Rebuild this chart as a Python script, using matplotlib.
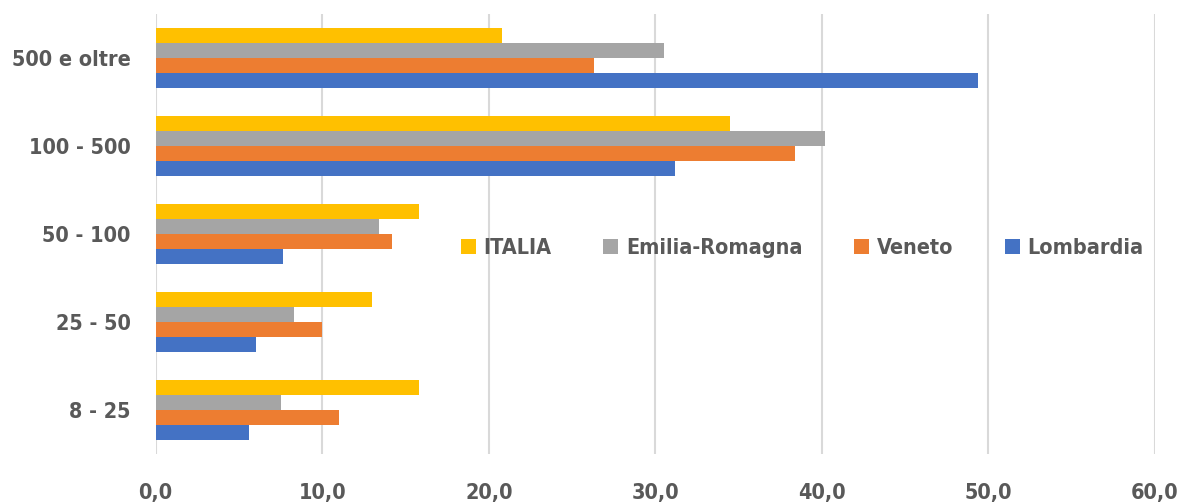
import numpy as np
import matplotlib.pyplot as plt
from matplotlib.ticker import FuncFormatter

# dimensione d'impresa (addetti), dal basso verso l'alto
classi = ['8 - 25', '25 - 50', '50 - 100', '100 - 500', '500 e oltre']

lombardia = [5.6, 6.0, 7.65, 31.2, 49.4]
veneto = [11.0, 10.0, 14.2, 38.4, 26.3]
emilia = [7.5, 8.3, 13.4, 40.2, 30.5]
italia = [15.8, 13.0, 15.8, 34.5, 20.8]

serie = ['Lombardia', 'Veneto', 'Emilia-Romagna', 'ITALIA']
valori = [lombardia, veneto, emilia, italia]
colori = ['#4472C4', '#ED7D31', '#A5A5A5', '#FFC000']

plt.rcParams['font.family'] = ['DejaVu Sans']
plt.rcParams['font.stretch'] = 'condensed'
grigio = '#595959'

fig = plt.figure(figsize=(11.83, 5.03), dpi=100)
ax = fig.add_axes([0.1316, 0.0974, 0.8447, 0.8748])

y = np.arange(len(classi))
h = 0.17
for i, (nome, v, c) in enumerate(zip(serie, valori, colori)):
    ax.barh(y + (i - 1.5) * h, v, height=h, color=c, label=nome, zorder=3)

ax.set_xlim(0, 60)
ax.set_ylim(-0.5, len(classi) - 0.5)
ax.set_xticks(np.arange(0, 61, 10))
ax.xaxis.set_major_formatter(FuncFormatter(lambda v, p: f'{v:.1f}'.replace('.', ',')))
ax.set_yticks(y)
ax.set_yticklabels(classi)
ax.grid(axis='x', color='#d9d9d9', linewidth=1.5, zorder=0)
for s in ax.spines.values():
    s.set_visible(False)
ax.tick_params(length=0, colors=grigio, labelsize=15.5)
ax.tick_params(axis='x', pad=21)
ax.tick_params(axis='y', pad=18)
for t in ax.get_xticklabels() + ax.get_yticklabels():
    t.set_fontweight('bold')

# legenda in ordine inverso rispetto al disegno
hnd, lab = ax.get_legend_handles_labels()
leg = ax.legend(hnd[::-1], lab[::-1], ncol=4, frameon=False, loc='center',
                bbox_to_anchor=(0.647, 0.468), handlelength=0.7, handleheight=0.7,
                handletextpad=0.35, columnspacing=2.4,
                prop={'weight': 'bold', 'size': 15.5, 'stretch': 'condensed'})
for t in leg.get_texts():
    t.set_color(grigio)

fig.savefig('out.png', dpi=100)
